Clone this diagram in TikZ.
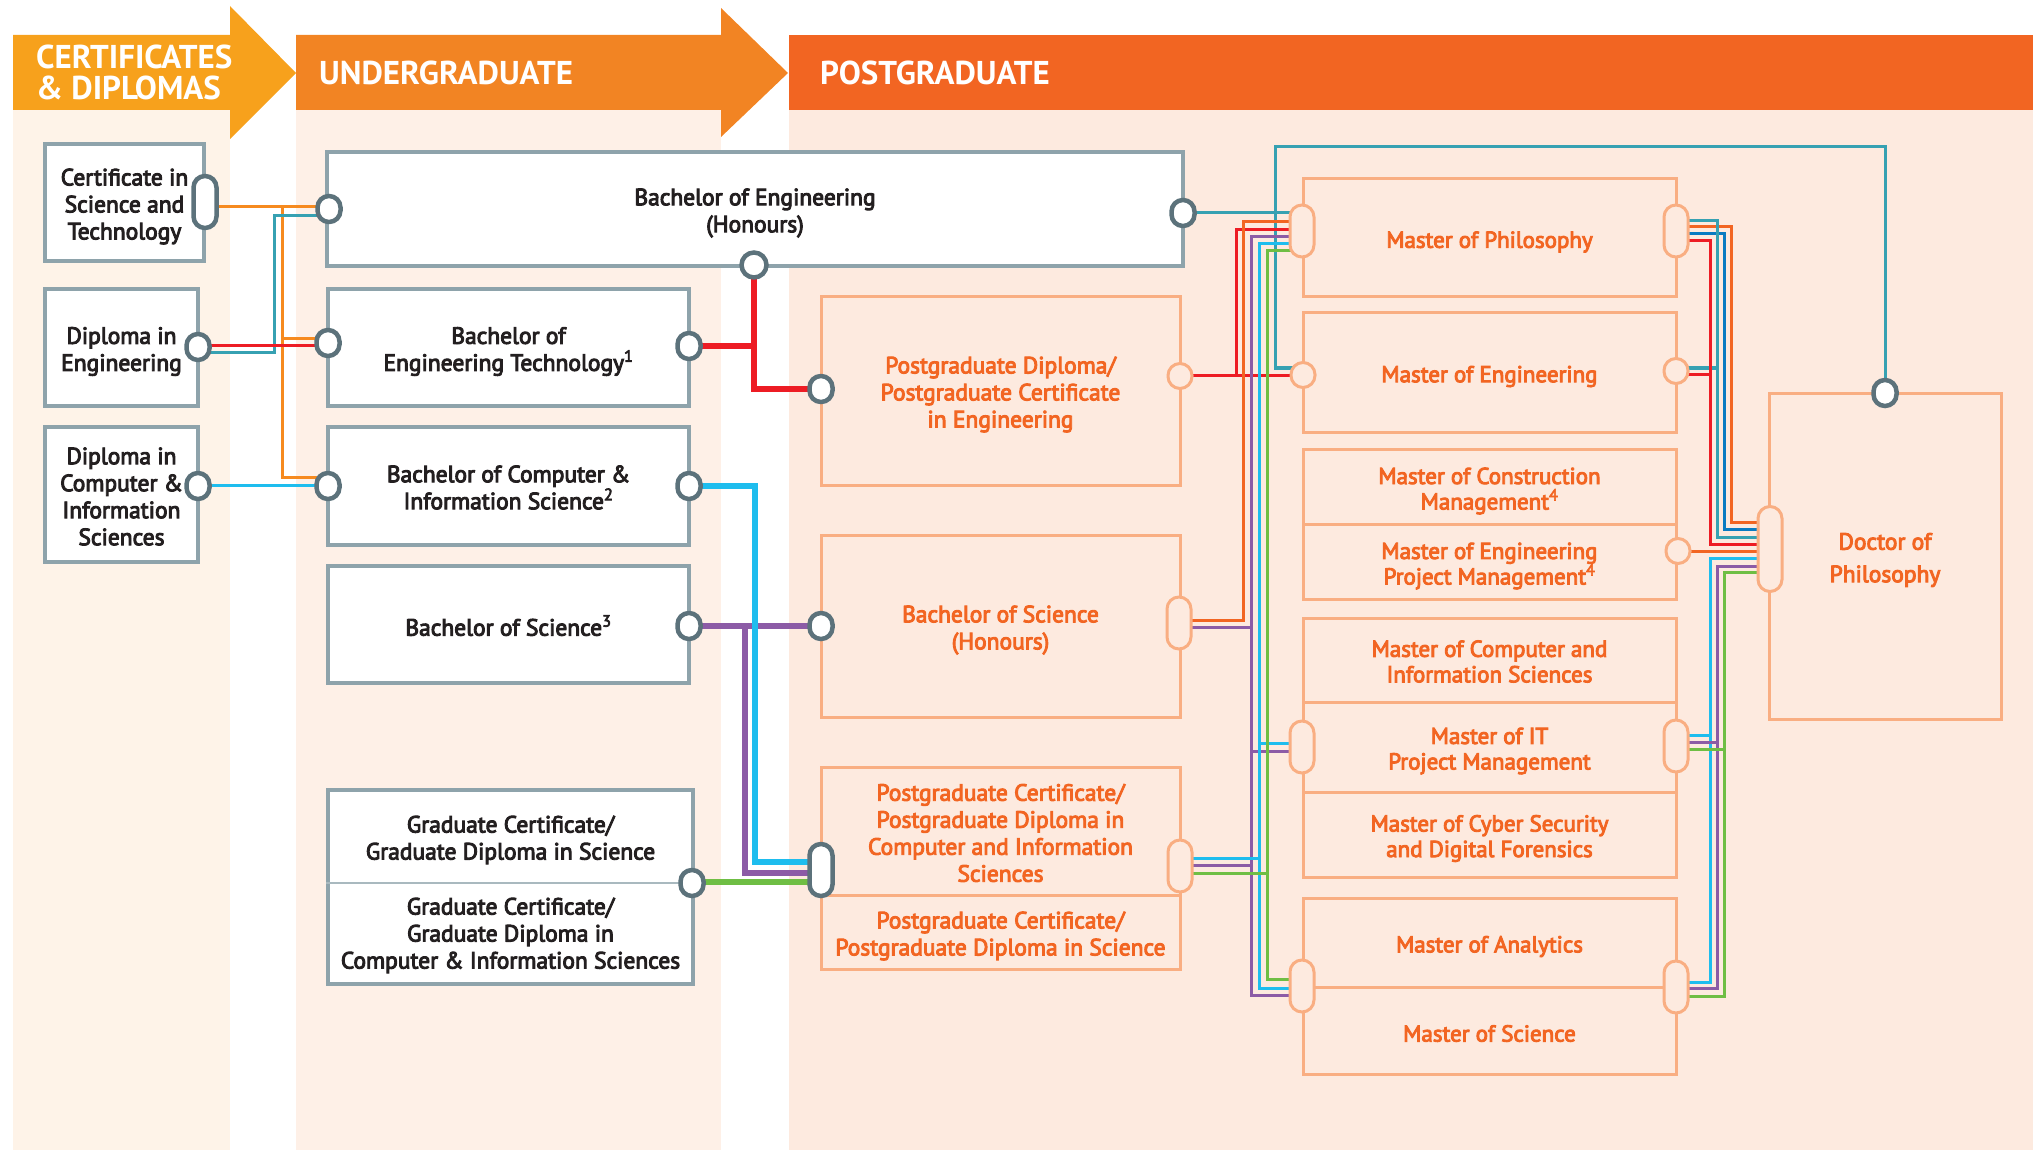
\documentclass[tikz,border=0pt]{standalone}
\usepackage{fontspec}
\newfontfamily\bodyfont{PT Sans}[FakeBold=4]
\newfontfamily\headfont{PT Sans}
\definecolor{cbg}{HTML}{FEF3E8}
\definecolor{ubg}{HTML}{FEF0E7}
\definecolor{pbg}{HTML}{FDEADF}
\definecolor{hcA}{HTML}{F7A11C}
\definecolor{hcB}{HTML}{F28423}
\definecolor{hcC}{HTML}{F26522}
\definecolor{gborder}{HTML}{8EA3AB}
\definecolor{gdiv}{HTML}{A9B9BF}
\definecolor{pdark}{HTML}{5C727B}
\definecolor{obord}{HTML}{F9AE82}
\definecolor{otext}{HTML}{F26522}
\definecolor{btext}{HTML}{231F20}
\definecolor{cLor}{HTML}{F68A1F}
\definecolor{cTeal}{HTML}{36A1B2}
\definecolor{cRed}{HTML}{ED1C24}
\definecolor{cCyan}{HTML}{1EBDEE}
\definecolor{cPurple}{HTML}{8C5BA6}
\definecolor{cGreen}{HTML}{6FBE44}
\definecolor{cDor}{HTML}{F26522}
\definecolor{cBlue}{HTML}{0A7BC1}
\pgfdeclarelayer{bg}
\pgfdeclarelayer{mid}
\pgfsetlayers{bg,mid,main}
\begin{document}
\begin{tikzpicture}[x=1pt,y=-1pt,
  bodyf/.style={font=\bodyfont\fontsize{23.5}{27}\selectfont},
  gbox/.style={draw=gborder, line width=4pt, fill=white, inner sep=0pt},
  obox/.style={draw=obord, line width=3pt, inner sep=0pt},
  gtxt/.style={align=center, text=btext, bodyf, inner sep=0pt},
  otxt/.style={align=center, text=otext, bodyf, inner sep=0pt},
  mtxt/.style={otxt, font=\bodyfont\fontsize{23}{25.5}\selectfont},
  hdr/.style={font=\headfont\bfseries\fontsize{33}{33}\selectfont, text=white, inner sep=0pt, anchor=base west},
  gport/.style={draw=pdark, line width=4.5pt, fill=white, inner sep=0pt, outer sep=0pt, minimum width=23pt, rounded corners=11.49pt},
  gcirc/.style={gport, minimum height=26pt},
  gpill/.style={gport, minimum height=52pt},
  oport/.style={draw=obord, line width=3pt, fill=pbg, inner sep=0pt, outer sep=0pt, minimum width=24pt, rounded corners=11.99pt},
  ocirc/.style={oport, minimum height=25pt},
  opill/.style={oport, minimum height=52pt},
  tl/.style={line width=3pt},
  tk/.style={line width=6pt}
]
\useasboundingbox (0,0) rectangle (2038,1150);
\begin{pgfonlayer}{bg}
% column backgrounds
\fill[cbg] (13,110) rectangle (230,1150);
\fill[ubg] (296,110) rectangle (721,1150);
\fill[pbg] (789,110) rectangle (2033,1150);
% header bands
\fill[hcA] (13,35) -- (230,35) -- (230,6) -- (296,73) -- (230,139) -- (230,110) -- (13,110) -- cycle;
\fill[hcB] (296,35) -- (721,35) -- (721,8) -- (788,73) -- (721,137) -- (721,110) -- (296,110) -- cycle;
\fill[hcC] (789,35) rectangle (2033,110);
% certificate boxes
\node[gbox, minimum width=159pt, minimum height=117pt] (bCST) at (124.5,202.5) {};
\node[gbox, minimum width=153pt, minimum height=117pt] (bDE) at (121.5,347.5) {};
\node[gbox, minimum width=153pt, minimum height=135pt] (bDCIS) at (121.5,494.5) {};
% undergraduate boxes
\node[gbox, minimum width=856pt, minimum height=114pt] (bBE) at (755,209) {};
\node[gbox, minimum width=361pt, minimum height=117pt] (bBET) at (508.5,347.5) {};
\node[gbox, minimum width=361pt, minimum height=118pt] (bBCIS) at (508.5,486) {};
\node[gbox, minimum width=361pt, minimum height=117pt] (bBSc) at (508.5,624.5) {};
\node[gbox, minimum width=365pt, minimum height=194pt] (bGC) at (510.5,887) {};
\draw[gdiv, line width=2pt] (bGC.west |- 0,883) -- (bGC.east |- 0,883);
% postgraduate boxes
\node[obox, minimum width=359pt, minimum height=188pt] (bPGD) at (1000.5,391) {};
\node[obox, minimum width=359pt, minimum height=182pt] (bBSH) at (1000.5,626) {};
\node[obox, minimum width=359pt, minimum height=128pt] (bPGC1) at (1000.5,831) {};
\node[obox, minimum width=359pt, minimum height=74pt] (bPGC2) at (1000.5,932) {};
\node[obox, minimum width=373pt, minimum height=118pt] (bMPh) at (1489.5,238) {};
\node[obox, minimum width=373pt, minimum height=119pt] (bMEng) at (1489.5,372.5) {};
\node[obox, minimum width=373pt, minimum height=75pt] (bMCM) at (1489.5,486.5) {};
\node[obox, minimum width=373pt, minimum height=75pt] (bMEPM) at (1489.5,561.5) {};
\node[obox, minimum width=373pt, minimum height=84pt] (bMCIS) at (1489.5,660) {};
\node[obox, minimum width=373pt, minimum height=90pt] (bMIT) at (1489.5,747) {};
\node[obox, minimum width=373pt, minimum height=85pt] (bMCS) at (1489.5,834.5) {};
\node[obox, minimum width=373pt, minimum height=89pt] (bMA) at (1489.5,942.5) {};
\node[obox, minimum width=373pt, minimum height=87pt] (bMSc) at (1489.5,1030.5) {};
\node[obox, minimum width=232pt, minimum height=326pt] (bPhD) at (1885,556) {};
\end{pgfonlayer}
% box texts
\node[gtxt, yshift=-4pt] (tCST) at (bCST.center) {Certificate in\\Science and\\Technology};
\node[gtxt, yshift=-4pt] (tDE) at (bDE.center) {Diploma in\\Engineering};
\node[gtxt, yshift=-2pt] (tDCIS) at (bDCIS.center) {Diploma in\\Computer \&\\Information\\Sciences};
\node[gtxt, yshift=-4pt] (tBE) at (bBE.center) {Bachelor of Engineering\\(Honours)};
\node[gtxt, yshift=-4pt] (tBET) at (bBET.center) {Bachelor of\\Engineering Technology\textsuperscript{1}};
\node[gtxt, yshift=-1.5pt] (tBCIS) at (bBCIS.center) {Bachelor of Computer \&\\Information Science\textsuperscript{2}};
\node[gtxt, yshift=-1pt] (tBSc) at (bBSc.center) {Bachelor of Science\textsuperscript{3}};
\node[gtxt] (tGC1) at (510.5,840) {Graduate Certificate/\\Graduate Diploma in Science};
\node[gtxt] (tGC2) at (510.5,935.5) {Graduate Certificate/\\Graduate Diploma in\\Computer \& Information Sciences};
\node[otxt, yshift=-3.5pt] (tPGD) at (bPGD.center) {Postgraduate Diploma/\\Postgraduate Certificate\\in Engineering};
\node[otxt, yshift=-4pt] (tBSH) at (bBSH.center) {Bachelor of Science\\(Honours)};
\node[otxt, yshift=-2pt] (tPGC1) at (bPGC1.center) {Postgraduate Certificate/\\Postgraduate Diploma in\\Computer and Information\\Sciences};
\node[otxt, yshift=-4pt] (tPGC2) at (bPGC2.center) {Postgraduate Certificate/\\Postgraduate Diploma in Science};
\node[mtxt, yshift=-4pt] (tMPh) at (bMPh.center) {Master of Philosophy};
\node[mtxt, yshift=-4pt] (tMEng) at (bMEng.center) {Master of Engineering};
\node[mtxt, yshift=-4.5pt] (tMCM) at (bMCM.center) {Master of Construction\\Management\textsuperscript{4}};
\node[mtxt, yshift=-4.5pt] (tMEPM) at (bMEPM.center) {Master of Engineering\\Project Management\textsuperscript{4}};
\node[mtxt, yshift=-1.5pt] (tMCIS) at (bMCIS.center) {Master of Computer and\\Information Sciences};
\node[mtxt, yshift=-4pt] (tMIT) at (bMIT.center) {Master of IT\\Project Management};
\node[mtxt, yshift=-4pt] (tMCS) at (bMCS.center) {Master of Cyber Security\\and Digital Forensics};
\node[mtxt, yshift=-4pt] (tMA) at (bMA.center) {Master of Analytics};
\node[mtxt, yshift=-3pt] (tMSc) at (bMSc.center) {Master of Science};
\node[otxt, font=\bodyfont\fontsize{23.5}{32.5}\selectfont, yshift=-4pt] (tPhD) at (bPhD.center) {Doctor of\\Philosophy};
% header texts
\node[hdr] (hCD1) at (36,69) {CERTIFICATES};
\node[hdr] (hCD2) at (36,100) {\& DIPLOMAS};
\node[hdr] (hUG) at (319,85) {UNDERGRADUATE};
\node[hdr] (hPG) at (820,85) {POSTGRADUATE};
% ports (grey)
\node[gpill] (cst) at (205,202) {};
\node[gcirc] (de) at (198,347) {};
\node[gcirc] (dcis) at (198,486) {};
\node[gcirc] (beL) at (329,209) {};
\node[gcirc, minimum width=25pt, minimum height=25pt, rounded corners=12.49pt] (beB) at (754,265) {};
\node[gcirc] (beR) at (1183,213) {};
\node[gcirc] (betL) at (328,343) {};
\node[gcirc] (betR) at (689,346) {};
\node[gcirc] (bcisL) at (328,486) {};
\node[gcirc] (bcisR) at (689,486) {};
\node[gcirc] (bscR) at (689,626) {};
\node[gcirc] (gcR) at (692,883) {};
\node[gcirc] (pgdL) at (821,389) {};
\node[gcirc] (bshL) at (821,626) {};
\node[gpill] (pgcisL) at (821,870) {};
\node[gcirc] (phdT) at (1885,393) {};
% ports (orange)
\node[ocirc] (pgdR) at (1180,376) {};
\node[opill] (bshR) at (1179,623) {};
\node[opill] (pgcisR) at (1180,866) {};
\node[opill] (mphL) at (1302,231) {};
\node[opill] (mphR) at (1676,231) {};
\node[ocirc] (mengL) at (1303,375) {};
\node[ocirc] (mengR) at (1676,371) {};
\node[ocirc] (mepmR) at (1678,551) {};
\node[opill] (mitL) at (1302,747) {};
\node[opill] (mitR) at (1676,746) {};
\node[opill] (masL) at (1302,986) {};
\node[opill] (masR) at (1676,987) {};
\node[opill, minimum height=85pt] (phdL) at (1770,549) {};
\begin{pgfonlayer}{mid}
% certificates -> undergraduate
\draw[tl, cLor] (cst |- 0,207) -- (beL |- 0,207);
\draw[tl, cLor] (282,207) -- (282,477) -- (bcisL |- 0,477);
\draw[tl, cLor] (282,339) -- (betL |- 0,339);
\draw[tl, cTeal] (de |- 0,353) -- (274,353) -- (274,216) -- (beL |- 0,216);
\draw[tl, cRed] (de |- 0,346) -- (betL |- 0,346);
\draw[tl, cCyan] (dcis |- 0,485) -- (bcisL |- 0,485);
% undergraduate -> postgraduate (thick)
\draw[tk, cRed] (betR |- 0,346) -- (754,346);
\draw[tk, cRed] (beB) -- (754,389) -- (pgdL |- 0,389);
\draw[tk, cPurple] (bscR |- 0,626) -- (bshL |- 0,626);
\draw[tk, cPurple] (745,626) -- (745,873) -- (pgcisL |- 0,873);
\draw[tk, cCyan] (bcisR |- 0,486) -- (755,486) -- (755,862) -- (pgcisL |- 0,862);
\draw[tk, cGreen] (gcR |- 0,882) -- (pgcisL |- 0,882);
% to masters
\draw[tl, cTeal] (beR |- 0,213) -- (mphL |- 0,213);
\draw[tl, cTeal] (mengL |- 0,368) -- (1275,368) -- (1275,147) -- (1885,147) -- (phdT);
\draw[tl, cRed] (pgdR |- 0,375) -- (mengL |- 0,375);
\draw[tl, cRed] (1236,375) -- (1236,230) -- (mphL |- 0,230);
\draw[tl, cDor] (bshR |- 0,620) -- (1243,620) -- (1243,222) -- (mphL |- 0,222);
\draw[tl, cPurple] (mphL |- 0,237) -- (1251,237) -- (1251,995) -- (masL |- 0,995);
\draw[tl, cPurple] (bshR |- 0,627) -- (1251,627);
\draw[tl, cPurple] (pgcisR |- 0,865) -- (1251,865);
\draw[tl, cPurple] (1251,751) -- (mitL |- 0,751);
\draw[tl, cCyan] (mphL |- 0,244) -- (1259,244) -- (1259,988) -- (masL |- 0,988);
\draw[tl, cCyan] (pgcisR |- 0,858) -- (1259,858);
\draw[tl, cCyan] (1259,743) -- (mitL |- 0,743);
\draw[tl, cGreen] (mphL |- 0,251) -- (1267,251) -- (1267,979) -- (masL |- 0,979);
\draw[tl, cGreen] (pgcisR |- 0,873) -- (1267,873);
% masters -> doctorate
\draw[tl, cDor] (mphR |- 0,227) -- (1731,227) -- (1731,522) -- (phdL |- 0,522);
\draw[tl, cBlue] (mphR |- 0,234) -- (1724,234) -- (1724,529) -- (phdL |- 0,529);
\draw[tl, cTeal] (mphR |- 0,221) -- (1717,221) -- (1717,537) -- (phdL |- 0,537);
\draw[tl, cTeal] (mengR |- 0,368) -- (1717,368);
\draw[tl, cRed] (mphR |- 0,241) -- (1710,241) -- (1710,544) -- (phdL |- 0,544);
\draw[tl, cRed] (mengR |- 0,374) -- (1710,374);
\draw[tl, cDor] (mepmR |- 0,551) -- (phdL |- 0,551);
\draw[tl, cCyan] (phdL |- 0,558) -- (1710,558) -- (1710,982) -- (masR |- 0,982);
\draw[tl, cCyan] (mitR |- 0,735) -- (1710,735);
\draw[tl, cPurple] (phdL |- 0,566) -- (1717,566) -- (1717,988) -- (masR |- 0,988);
\draw[tl, cPurple] (mitR |- 0,742) -- (1717,742);
\draw[tl, cGreen] (phdL |- 0,572) -- (1724,572) -- (1724,996) -- (masR |- 0,996);
\draw[tl, cGreen] (mitR |- 0,749) -- (1724,749);
\end{pgfonlayer}
\end{tikzpicture}
\end{document}
